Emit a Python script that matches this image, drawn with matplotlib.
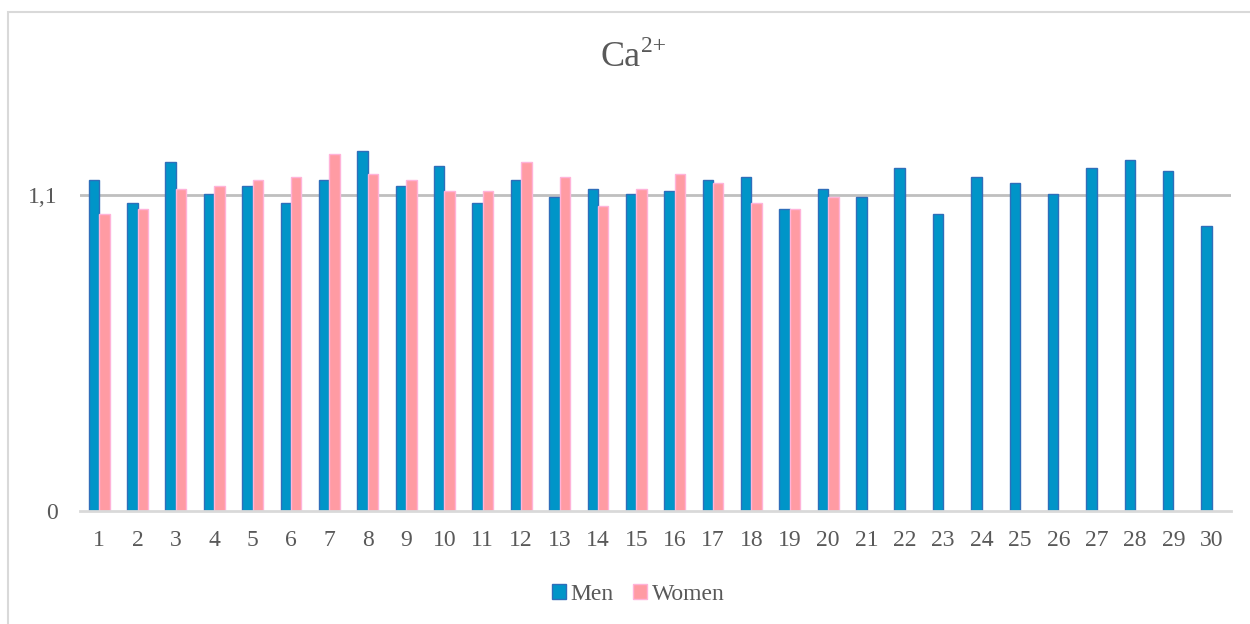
import matplotlib.pyplot as plt
import numpy as np
from matplotlib.patches import Rectangle

participants = list(range(1, 31))
men = [1.152, 1.073, 1.214, 1.104, 1.132, 1.073, 1.152, 1.253, 1.132, 1.203,
       1.073, 1.152, 1.093, 1.123, 1.104, 1.113, 1.152, 1.163, 1.052, 1.123,
       1.093, 1.193, 1.033, 1.163, 1.143, 1.104, 1.193, 1.223, 1.183, 0.992]
women = [1.033, 1.052, 1.123, 1.132, 1.152, 1.163, 1.243, 1.173, 1.152, 1.113,
         1.113, 1.214, 1.163, 1.063, 1.123, 1.173, 1.143, 1.073, 1.052, 1.093]
yticks = [0, 1.1]
ytick_labels = ['0', '1,1']

plt.rcParams['font.family'] = ['Liberation Serif', 'DejaVu Serif']
text_gray = '#595959'

fig = plt.figure(figsize=(12.5, 6.24), dpi=100)
fig.patches.append(Rectangle((8 / 1250, -0.1), 1.1, 1 - 11.5 / 624 + 0.1,
                             transform=fig.transFigure, fill=False,
                             edgecolor='#D9D9D9', linewidth=1.5))
ax = fig.add_axes([80 / 1250, 1 - 511 / 624, 1151 / 1250, 402 / 624])

x = np.arange(len(participants))
w = 0.272
ax.bar(x[:len(men)] - w / 2, men, w, color='#0095C8', edgecolor='#2F6EBA',
       linewidth=1, label='Men', zorder=3)
ax.bar(x[:len(women)] + w / 2, women, w, color='#FF9BA3', edgecolor='#FFB3D9',
       linewidth=1, label='Women', zorder=3)

ax.set_xlim(-0.5, len(participants) - 0.5)
ax.set_ylim(0, 1.4)
ax.set_yticks(yticks)
ax.set_yticklabels(ytick_labels)
ax.set_xticks(x)
ax.set_xticklabels([str(p) for p in participants])
ax.tick_params(axis='both', length=0, labelsize=17, colors=text_gray)
ax.tick_params(axis='x', pad=14)
ax.tick_params(axis='y', pad=16)
ax.axhline(1.1, color='#BFBFBF', linewidth=2, zorder=1)
for s in ['top', 'right', 'left']:
    ax.spines[s].set_visible(False)
ax.spines['bottom'].set_color('#D9D9D9')
ax.spines['bottom'].set_linewidth(2)
ax.spines['bottom'].set_zorder(4)

# title: "Ca" with a raised "2+"
fig.text(640 / 1250, 1 - 57 / 624, 'Ca', ha='right', va='center',
         fontsize=26, color=text_gray)
fig.text(641 / 1250, 1 - 46 / 624, '2+', ha='left', va='center',
         fontsize=17, color=text_gray)

fig.legend(loc='center', bbox_to_anchor=(638 / 1250, 1 - 594 / 624), ncol=2,
           frameon=False, fontsize=17, labelcolor=text_gray,
           handlelength=0.6, handleheight=0.6, handletextpad=0.2,
           columnspacing=0.8)

fig.savefig('out.png', dpi=100)
